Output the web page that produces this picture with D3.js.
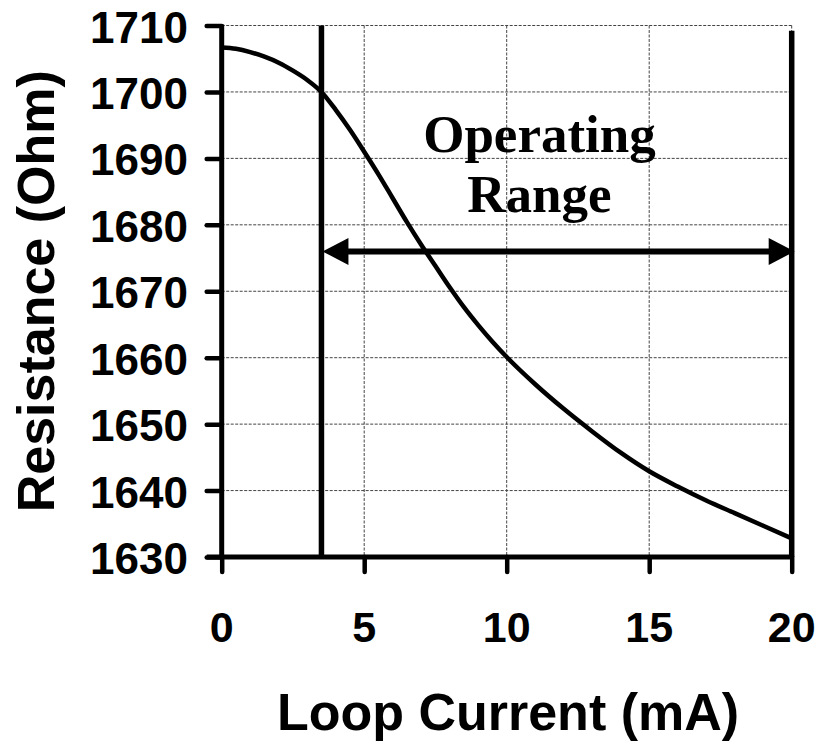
<!DOCTYPE html>
<html>
<head>
<meta charset="utf-8">
<script src="https://cdn.jsdelivr.net/npm/d3@7"></script>
<style>
  html, body { margin: 0; padding: 0; background: #fff; }
  svg { display: block; }
</style>
</head>
<body>
<div id="chart"></div>
<script>
// Resistance vs loop current, with the operating range marked

const currentMA = [0, 0.5, 1, 1.5, 2, 2.5, 3, 3.5, 4, 4.5, 5, 5.5, 6, 6.5, 7, 7.5, 8, 8.5, 9, 9.5,
  10, 11, 12, 13, 14, 15, 16, 17, 18, 19, 20];
const resistanceOhm = [1706.7, 1706.5, 1706.0, 1705.3, 1704.4, 1703.2, 1701.8, 1700.0, 1697.3, 1694.3,
  1691.0, 1687.6, 1684.0, 1680.4, 1677.0, 1673.8, 1670.6, 1667.6, 1664.9, 1662.4,
  1660.1, 1656.0, 1652.3, 1648.9, 1645.7, 1642.9, 1640.6, 1638.5, 1636.6, 1634.7, 1632.8];

const xTicks = [0, 5, 10, 15, 20];
const yTicks = [1630, 1640, 1650, 1660, 1670, 1680, 1690, 1700, 1710];
const operatingRange = [3.5, 20];
const arrowLevel = 1676;
const rangeLabel = ["Operating", "Range"];

const W = 820, H = 741;
const m = { left: 221.7, right: 28.3, top: 25.5, bottom: 184 };

const x = d3.scaleLinear().domain([0, 20]).range([m.left, W - m.right]);
const y = d3.scaleLinear().domain([1630, 1710]).range([H - m.bottom, m.top]);

const svg = d3.select("#chart").append("svg")
  .attr("width", W).attr("height", H)
  .attr("viewBox", `0 0 ${W} ${H}`);

const sans = "'Liberation Sans', Arial, sans-serif";
const serif = "'Liberation Serif', 'Times New Roman', serif";

// grid
const grid = svg.append("g")
  .attr("stroke", "#444")
  .attr("stroke-width", 1)
  .attr("stroke-dasharray", "3,1.5");

grid.selectAll("line.h").data(yTicks.filter(d => d > 1630)).join("line")
  .attr("class", "h")
  .attr("x1", x(0)).attr("x2", x(20))
  .attr("y1", d => y(d)).attr("y2", d => y(d));

grid.selectAll("line.v").data(xTicks.filter(d => d > 0)).join("line")
  .attr("class", "v")
  .attr("x1", d => x(d)).attr("x2", d => x(d))
  .attr("y1", y(1710)).attr("y2", y(1630));

// curve
const pts = currentMA.map((c, i) => [c, resistanceOhm[i]]);
svg.append("path")
  .datum(pts)
  .attr("fill", "none")
  .attr("stroke", "#000")
  .attr("stroke-width", 4.5)
  .attr("stroke-linejoin", "round")
  .attr("d", d3.line().x(d => x(d[0])).y(d => y(d[1])).curve(d3.curveMonotoneX));

// operating range bounds
svg.selectAll("line.bound").data(operatingRange).join("line")
  .attr("class", "bound")
  .attr("x1", d => x(d)).attr("x2", d => x(d))
  .attr("y1", (d, i) => i === 0 ? y(1710) : y(1709.2))
  .attr("y2", y(1630))
  .attr("stroke", "#000")
  .attr("stroke-width", 5.5);

// double arrow
const ay = y(arrowLevel);
const head = 26, half = 13.5;
const x0 = x(operatingRange[0]) + 1, x1 = x(operatingRange[1]) + 3;
svg.append("line")
  .attr("x1", x0 + head - 2).attr("x2", x1 - head + 2)
  .attr("y1", ay).attr("y2", ay)
  .attr("stroke", "#000").attr("stroke-width", 6);
svg.append("path")
  .attr("d", `M${x0},${ay} L${x0 + head},${ay - half} L${x0 + head},${ay + half} Z`)
  .attr("fill", "#000");
svg.append("path")
  .attr("d", `M${x1},${ay} L${x1 - head},${ay - half} L${x1 - head},${ay + half} Z`)
  .attr("fill", "#000");

// label
svg.selectAll("text.range").data(rangeLabel).join("text")
  .attr("class", "range")
  .attr("x", x(11.15))
  .attr("y", (d, i) => i === 0 ? 151.7 : 211.7)
  .attr("text-anchor", "middle")
  .attr("font-family", serif)
  .attr("font-weight", "bold")
  .attr("font-size", 53)
  .text(d => d);

// axes
const yAxis = svg.append("g")
  .attr("transform", `translate(${x(0)},0)`)
  .call(d3.axisLeft(y).tickValues(yTicks).tickSize(15).tickFormat(""));
const xAxis = svg.append("g")
  .attr("transform", `translate(0,${y(1630)})`)
  .call(d3.axisBottom(x).tickValues(xTicks).tickSize(15).tickFormat(""));

[yAxis, xAxis].forEach(g => {
  g.select(".domain").remove();
  g.selectAll(".tick line")
    .attr("stroke", "#000")
    .attr("stroke-width", 4.5)
    .attr("stroke-linecap", "round");
});

svg.append("line")
  .attr("x1", x(0)).attr("x2", x(0))
  .attr("y1", y(1710) - 1).attr("y2", y(1630) + 2)
  .attr("stroke", "#000").attr("stroke-width", 5);
svg.append("line")
  .attr("x1", x(0) - 15).attr("x2", x(20) + 2)
  .attr("y1", y(1630)).attr("y2", y(1630))
  .attr("stroke", "#000").attr("stroke-width", 5);

// tick labels
svg.selectAll("text.ytick").data(yTicks).join("text")
  .attr("class", "ytick")
  .attr("x", 188)
  .attr("y", d => y(d) + 17)
  .attr("text-anchor", "end")
  .attr("font-family", sans)
  .attr("font-weight", "bold")
  .attr("font-size", 44)
  .text(d => d);

svg.selectAll("text.xtick").data(xTicks).join("text")
  .attr("class", "xtick")
  .attr("x", d => x(d))
  .attr("y", 642)
  .attr("text-anchor", "middle")
  .attr("font-family", sans)
  .attr("font-weight", "bold")
  .attr("font-size", 43)
  .text(d => d);

// axis titles
svg.append("text")
  .attr("x", 508)
  .attr("y", 730)
  .attr("text-anchor", "middle")
  .attr("font-family", sans)
  .attr("font-weight", "bold")
  .attr("font-size", 52)
  .text("Loop Current (mA)");

svg.append("text")
  .attr("transform", `translate(54,${(y(1710) + y(1630)) / 2}) rotate(-90)`)
  .attr("text-anchor", "middle")
  .attr("font-family", sans)
  .attr("font-weight", "bold")
  .attr("font-size", 52)
  .text("Resistance (Ohm)");
</script>
</body>
</html>
